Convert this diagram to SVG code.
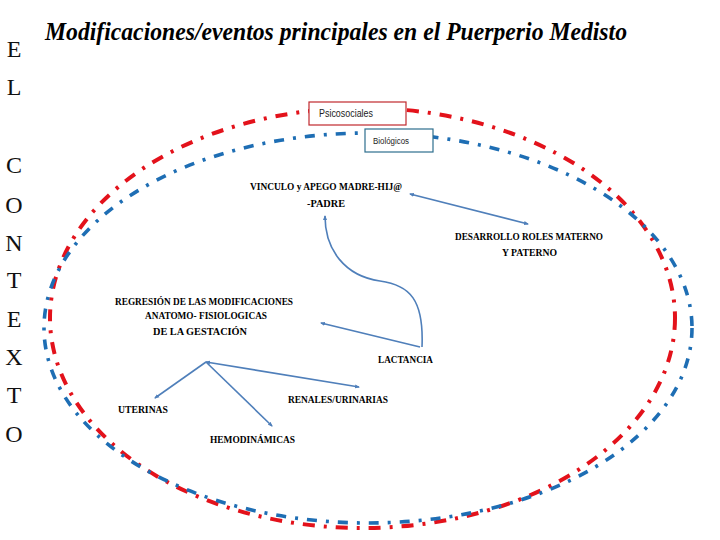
<svg xmlns="http://www.w3.org/2000/svg" width="720" height="540" viewBox="0 0 720 540">
  <defs>
    <marker id="arr" viewBox="0 0 10 10" refX="8" refY="5" markerWidth="5" markerHeight="5" orient="auto-start-reverse" markerUnits="userSpaceOnUse">
      <path d="M0,1 L10,5 L0,9 z" fill="#4f7fba"/>
    </marker>
    <style>
      .ctx { font-family: "Liberation Serif", serif; font-size: 24px; fill: #111; text-anchor: middle; }
      .lbl { font-family: "Liberation Serif", serif; font-weight: bold; font-size: 11px; fill: #000; }
      .conn { fill: none; stroke: #4f7fba; stroke-width: 1.6; }
      .box { fill: #fff; stroke-width: 1.2; }
      .boxt { font-family: "Liberation Sans", sans-serif; fill: #222; }
    </style>
  </defs>
  <rect width="720" height="540" fill="#fff"/>

  <!-- Title -->
  <text x="45" y="40" font-family="Liberation Serif, serif" font-weight="bold" font-style="italic" font-size="26" textLength="582" lengthAdjust="spacingAndGlyphs" fill="#000">Modificaciones/eventos principales en el Puerperio Medisto</text>

  <!-- Vertical word -->
  <g id="contexto">
    <text class="ctx" x="14" y="57">E</text>
    <text class="ctx" x="14" y="95">L</text>
    <text class="ctx" x="14" y="173">C</text>
    <text class="ctx" x="14" y="213">O</text>
    <text class="ctx" x="14" y="251">N</text>
    <text class="ctx" x="14" y="288">T</text>
    <text class="ctx" x="14" y="327">E</text>
    <text class="ctx" x="14" y="365">X</text>
    <text class="ctx" x="14" y="403">T</text>
    <text class="ctx" x="14" y="442">O</text>
  </g>

  <!-- Ellipses -->
  <g id="psicosociales-ring">
    <ellipse cx="362.5" cy="318" rx="312.5" ry="210" fill="none" stroke="#e3121b" stroke-width="4" stroke-dasharray="12 9 3 9"/>
  </g>
  <g id="biologicos-ring">
    <ellipse cx="368" cy="328" rx="324" ry="195" fill="none" stroke="#1e6eb4" stroke-width="3.6" stroke-dasharray="10 9 3 9"/>
  </g>

  <!-- Legend boxes -->
  <g id="psicosociales">
    <rect class="box" x="309" y="102" width="97" height="23" stroke="#c0282d"/>
    <text class="boxt" x="319" y="117" font-size="10" textLength="54" lengthAdjust="spacingAndGlyphs">Psicosociales</text>
  </g>
  <g id="biologicos">
    <rect class="box" x="365" y="129" width="68" height="23" stroke="#2e6e8e"/>
    <text class="boxt" x="373" y="144" font-size="8.5" textLength="36" lengthAdjust="spacingAndGlyphs">Biológicos</text>
  </g>

  <!-- Connectors -->
  <g id="connectors">
    <line class="conn" x1="410" y1="194" x2="528" y2="224" marker-start="url(#arr)" marker-end="url(#arr)"/>
    <path class="conn" d="M422,347 C424,300 410,285 380,281 C345,276 325,250 325,216" marker-end="url(#arr)"/>
    <line class="conn" x1="420" y1="347" x2="321" y2="323" marker-end="url(#arr)"/>
    <line class="conn" x1="206" y1="362" x2="359" y2="387" marker-start="url(#arr)" marker-end="url(#arr)"/>
    <line class="conn" x1="206" y1="362" x2="155" y2="398" marker-end="url(#arr)"/>
    <line class="conn" x1="206" y1="362" x2="272" y2="426" marker-end="url(#arr)"/>
  </g>

  <!-- Nodes -->
  <g id="vinculo">
    <text class="lbl" x="250" y="190" textLength="152" lengthAdjust="spacingAndGlyphs">VINCULO y APEGO MADRE-HIJ@</text>
    <text class="lbl" x="307" y="207" textLength="38" lengthAdjust="spacingAndGlyphs">-PADRE</text>
  </g>
  <g id="desarrollo">
    <text class="lbl" x="455" y="240" textLength="148" lengthAdjust="spacingAndGlyphs">DESARROLLO ROLES MATERNO</text>
    <text class="lbl" x="502" y="256" textLength="55" lengthAdjust="spacingAndGlyphs">Y PATERNO</text>
  </g>
  <g id="regresion">
    <text class="lbl" x="115" y="305" textLength="178" lengthAdjust="spacingAndGlyphs">REGRESIÓN DE LAS MODIFICACIONES</text>
    <text class="lbl" x="145" y="319" textLength="122" lengthAdjust="spacingAndGlyphs">ANATOMO- FISIOLOGICAS</text>
    <text class="lbl" x="153" y="335" textLength="94" lengthAdjust="spacingAndGlyphs">DE LA GESTACIÓN</text>
  </g>
  <g id="lactancia">
    <text class="lbl" x="378" y="363" textLength="55" lengthAdjust="spacingAndGlyphs">LACTANCIA</text>
  </g>
  <g id="renales">
    <text class="lbl" x="288" y="403" textLength="100" lengthAdjust="spacingAndGlyphs">RENALES/URINARIAS</text>
  </g>
  <g id="uterinas">
    <text class="lbl" x="118" y="413" textLength="50" lengthAdjust="spacingAndGlyphs">UTERINAS</text>
  </g>
  <g id="hemodinamicas">
    <text class="lbl" x="210" y="443" textLength="85" lengthAdjust="spacingAndGlyphs">HEMODINÁMICAS</text>
  </g>
</svg>
